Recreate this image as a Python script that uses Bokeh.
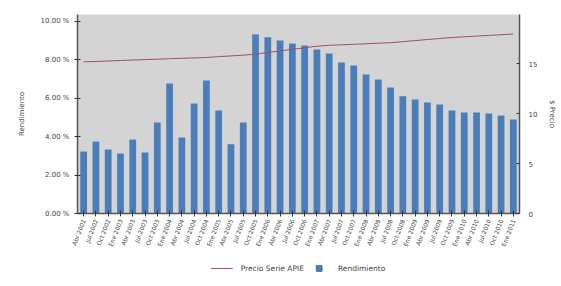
import math
from bokeh.plotting import figure
from bokeh.layouts import column
from bokeh.models import (ColumnDataSource, LinearAxis, Range1d, Legend, LegendItem,
                          PrintfTickFormatter, FixedTicker)
from bokeh.embed import file_html
from bokeh.resources import INLINE

# ---- data ----
periods = ["Abr 2002", "Jul 2002", "Oct 2002", "Ene 2003", "Abr 2003", "Jul 2003",
           "Oct 2003", "Ene 2004", "Abr 2004", "Jul 2004", "Oct 2004", "Ene 2005",
           "Abr 2005", "Jul 2005", "Oct 2005", "Ene 2006", "Abr 2006", "Jul 2006",
           "Oct 2006", "Ene 2007", "Abr 2007", "Jul 2007", "Oct 2007", "Ene 2008",
           "Abr 2008", "Jul 2008", "Oct 2008", "Ene 2009", "Abr 2009", "Jul 2009",
           "Oct 2009", "Ene 2010", "Abr 2010", "Jul 2010", "Oct 2010", "Ene 2011"]
rendimiento = [3.23, 3.75, 3.33, 3.12, 3.85, 3.18, 4.74, 6.77, 3.96, 5.73, 6.93, 5.36,
               3.60, 4.74, 9.32, 9.17, 9.01, 8.85, 8.75, 8.54, 8.33, 7.86, 7.70, 7.24,
               6.98, 6.56, 6.10, 5.94, 5.78, 5.68, 5.36, 5.26, 5.26, 5.21, 5.10, 4.90]
precio = [15.17, 15.20, 15.25, 15.30, 15.35, 15.39, 15.43, 15.48, 15.52, 15.56, 15.60, 15.69,
          15.76, 15.83, 15.94, 16.10, 16.26, 16.42, 16.57, 16.73, 16.82, 16.87, 16.92, 16.97,
          17.03, 17.08, 17.18, 17.29, 17.40, 17.50, 17.60, 17.67, 17.74, 17.81, 17.88, 17.95]
left_ticks = [0, 2, 4, 6, 8, 10]
right_ticks = [0, 5, 10, 15, 20]
series_names = ["Precio Serie APIE", "Rendimiento"]

src = ColumnDataSource(dict(periodo=periods, rend=rendimiento, precio=precio))

FONT = "DejaVu Sans"
TXT = "#444444"
AX = "#555555"
BAR = "#4A7EBB"
LINE = "#A0505E"

p = figure(x_range=periods, y_range=Range1d(0, 10.36),
           frame_width=442, frame_height=199,
           min_border_left=77, min_border_right=4, min_border_top=14, min_border_bottom=0,
           output_backend="svg", toolbar_location=None,
           background_fill_color="#D4D4D4", border_fill_color="white")
p.outline_line_color = None
p.grid.visible = False
p.extra_y_ranges = {"precio": Range1d(0, 19.9)}

p.vbar(x="periodo", top="rend", width=0.55, source=src, fill_color=BAR, line_color=None)
p.line(x="periodo", y="precio", source=src, y_range_name="precio",
       line_color=LINE, line_width=1)

# left axis
ya = p.yaxis[0]
ya.ticker = FixedTicker(ticks=left_ticks)
ya.formatter = PrintfTickFormatter(format="%.2f %%")
ya.axis_label = "Rendimiento"
ya.axis_label_standoff = 12

# right axis
ra = LinearAxis(y_range_name="precio", ticker=FixedTicker(ticks=right_ticks),
                axis_label="$ Precio", axis_label_standoff=8)
p.add_layout(ra, "right")

xa = p.xaxis[0]
xa.major_label_orientation = 1.2

for ax in [ya, ra, xa]:
    ax.axis_line_color = AX
    ax.axis_line_width = 1.5
    ax.major_tick_line_color = "#333333"
    ax.minor_tick_line_color = None
    ax.major_tick_in = 3
    ax.major_tick_out = 3
    ax.major_label_text_font = FONT
    ax.major_label_text_font_size = "7px"
    ax.major_label_text_color = TXT
    ax.axis_label_text_font = FONT
    ax.axis_label_text_font_size = "7px"
    ax.axis_label_text_font_style = "normal"
    ax.axis_label_text_color = TXT
ra.major_tick_out = 0
ra.major_label_standoff = 9
xa.major_label_standoff = 3
xa.major_label_text_font_size = "6px"

# legend strip (separate figure below the chart); swatch renderers hold no visible point
lg = figure(frame_width=442, frame_height=18, min_border_left=77, min_border_right=4,
            min_border_top=8, min_border_bottom=0,
            output_backend="svg", toolbar_location=None,
            x_range=Range1d(0, 1), y_range=Range1d(0, 1))
lg.axis.visible = False
lg.grid.visible = False
lg.outline_line_color = None
nan = float("nan")
r_line = lg.line(x=[nan], y=[nan], line_color=LINE, line_width=1)
r_sq = lg.scatter(x=[nan], y=[nan], marker="square", size=8,
                  fill_color=BAR, line_color="#3A6AA0")
legend = Legend(items=[LegendItem(label=series_names[0], renderers=[r_line]),
                       LegendItem(label=series_names[1], renderers=[r_sq])],
                orientation="horizontal", location="center",
                label_text_font=FONT, label_text_font_size="7.5px",
                label_text_color=TXT, glyph_width=22, glyph_height=14,
                spacing=4, label_standoff=8, padding=1, margin=0,
                border_line_color=None, background_fill_alpha=0)
lg.add_layout(legend, "center")

layout = column(p, lg, spacing=0)
open("out.html", "w").write(file_html(layout, INLINE))
